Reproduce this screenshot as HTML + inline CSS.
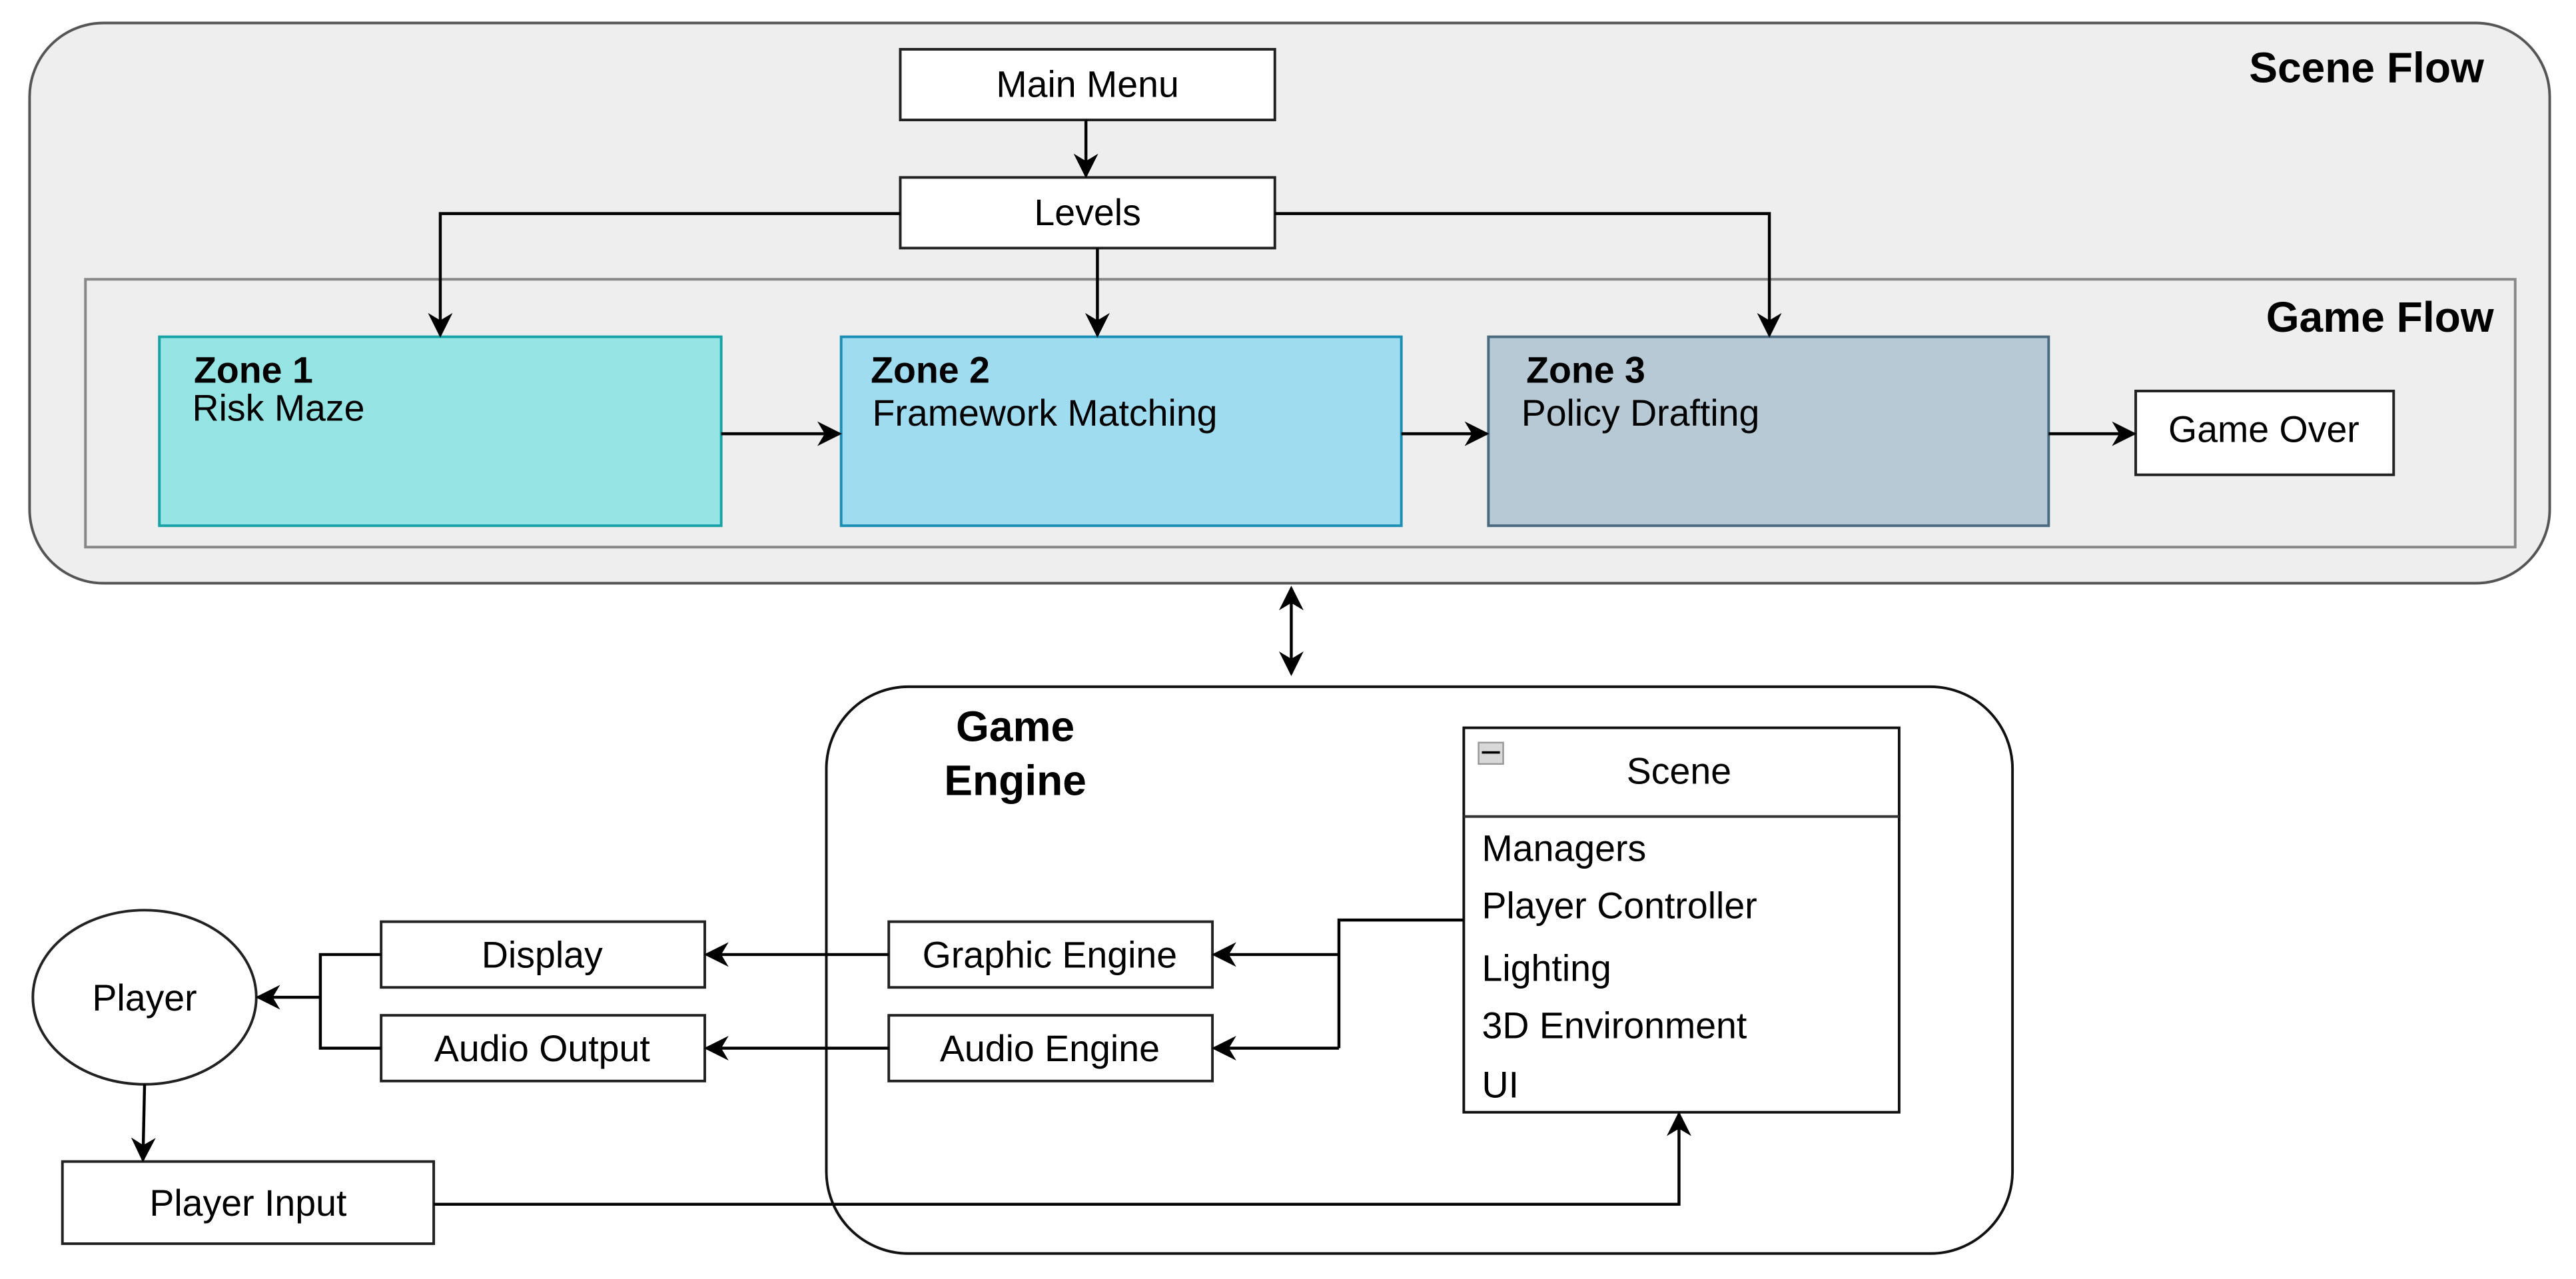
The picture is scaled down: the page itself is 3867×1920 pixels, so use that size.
<!DOCTYPE html>
<html><head><meta charset="utf-8"><style>
html,body{margin:0;padding:0;background:#fff;}
svg{display:block;}
text{font-family:"Liberation Sans",Arial,sans-serif;fill:#000;}
</style></head><body>
<svg width="3867" height="1920" viewBox="0 0 1568 778.5" preserveAspectRatio="none" xmlns="http://www.w3.org/2000/svg">
<defs>
<marker id="b" viewBox="0 0 10 10" refX="9" refY="5" markerWidth="15" markerHeight="15" markerUnits="userSpaceOnUse" orient="auto"><path d="M0,0 L10,5 L0,10 L3,5 z" fill="#000"/></marker>
<marker id="bs" viewBox="0 0 10 10" refX="1" refY="5" markerWidth="15" markerHeight="15" markerUnits="userSpaceOnUse" orient="auto"><path d="M10,0 L0,5 L10,10 L7,5 z" fill="#000"/></marker>
</defs>
<rect x="18" y="14" width="1534" height="341" rx="45" fill="#eeeeee" stroke="#555" stroke-width="1.6"/>
<text x="1512" y="50" font-size="26" font-weight="bold" text-anchor="end">Scene Flow</text>
<rect x="548" y="30" width="228" height="43" fill="#fff" stroke="#222" stroke-width="1.6"/>
<text x="662" y="59" font-size="22.5" text-anchor="middle">Main Menu</text>
<rect x="548" y="108" width="228" height="43" fill="#fff" stroke="#222" stroke-width="1.6"/>
<text x="662" y="137" font-size="22.5" text-anchor="middle">Levels</text>
<line x1="661" y1="73" x2="661" y2="107" stroke="#000" stroke-width="1.8" marker-end="url(#b)"/>
<rect x="52" y="170" width="1479" height="163" fill="#eeeeee" stroke="#888" stroke-width="1.6"/>
<text x="1518" y="202" font-size="26" font-weight="bold" text-anchor="end">Game Flow</text>
<rect x="97" y="205" width="342" height="115" fill="#96e4e4" stroke="#17a3a6" stroke-width="1.6"/>
<text x="118" y="233" font-size="22.5" font-weight="bold">Zone 1</text>
<text x="117" y="256" font-size="22.5">Risk Maze</text>
<rect x="512" y="205" width="341" height="115" fill="#a0dcef" stroke="#1a8fb3" stroke-width="1.6"/>
<text x="530" y="233" font-size="22.5" font-weight="bold">Zone 2</text>
<text x="531" y="259" font-size="22.5">Framework Matching</text>
<rect x="906" y="205" width="341" height="115" fill="#b7c9d4" stroke="#4a6a80" stroke-width="1.6"/>
<text x="929" y="233" font-size="22.5" font-weight="bold">Zone 3</text>
<text x="926" y="259" font-size="22.5">Policy Drafting</text>
<rect x="1300" y="238" width="157" height="51" fill="#fff" stroke="#222" stroke-width="1.6"/>
<text x="1378" y="269" font-size="22.5" text-anchor="middle">Game Over</text>
<g stroke="#000" stroke-width="1.8" fill="none">
<line x1="439" y1="264" x2="511" y2="264" marker-end="url(#b)"/>
<line x1="853" y1="264" x2="905" y2="264" marker-end="url(#b)"/>
<line x1="1247" y1="264" x2="1299" y2="264" marker-end="url(#b)"/>
<polyline points="548,130 268,130 268,204" marker-end="url(#b)"/>
<line x1="668" y1="151" x2="668" y2="204" marker-end="url(#b)"/>
<polyline points="776,130 1077,130 1077,204" marker-end="url(#b)"/>
<line x1="786" y1="358" x2="786" y2="410" marker-start="url(#bs)" marker-end="url(#b)"/>
</g>
<rect x="503" y="418" width="722" height="345" rx="50" fill="#fff" stroke="#111" stroke-width="1.6"/>
<text x="618" y="451" font-size="26" font-weight="bold" text-anchor="middle">Game</text>
<text x="618" y="484" font-size="26" font-weight="bold" text-anchor="middle">Engine</text>
<rect x="891" y="443" width="265" height="234" fill="#fff" stroke="#111" stroke-width="1.6"/>
<line x1="891" y1="497" x2="1156" y2="497" stroke="#333" stroke-width="1.6"/>
<rect x="900" y="452" width="15" height="13" fill="#d8d8d8" stroke="#999" stroke-width="1"/>
<line x1="902" y1="458" x2="913" y2="458" stroke="#000" stroke-width="1.5"/>
<text x="1022" y="477" font-size="22.5" text-anchor="middle">Scene</text>
<text x="902" y="524" font-size="22.5">Managers</text>
<text x="902" y="559" font-size="22.5">Player Controller</text>
<text x="902" y="597" font-size="22.5">Lighting</text>
<text x="902" y="632" font-size="22.5">3D Environment</text>
<text x="902" y="668" font-size="22.5">UI</text>
<rect x="541" y="561" width="197" height="40" fill="#fff" stroke="#222" stroke-width="1.6"/>
<text x="639" y="589" font-size="22.5" text-anchor="middle">Graphic Engine</text>
<rect x="541" y="618" width="197" height="40" fill="#fff" stroke="#222" stroke-width="1.6"/>
<text x="639" y="646" font-size="22.5" text-anchor="middle">Audio Engine</text>
<rect x="232" y="561" width="197" height="40" fill="#fff" stroke="#222" stroke-width="1.6"/>
<text x="330" y="589" font-size="22.5" text-anchor="middle">Display</text>
<rect x="232" y="618" width="197" height="40" fill="#fff" stroke="#222" stroke-width="1.6"/>
<text x="330" y="646" font-size="22.5" text-anchor="middle">Audio Output</text>
<ellipse cx="88" cy="607" rx="68" ry="53" fill="#fff" stroke="#222" stroke-width="1.6"/>
<text x="88" y="615" font-size="22.5" text-anchor="middle">Player</text>
<rect x="38" y="707" width="226" height="50" fill="#fff" stroke="#222" stroke-width="1.6"/>
<text x="151" y="740" font-size="22.5" text-anchor="middle">Player Input</text>
<g stroke="#000" stroke-width="1.8" fill="none">
<polyline points="891,560 815,560 815,638"/>
<line x1="815" y1="581" x2="739" y2="581" marker-end="url(#b)"/>
<line x1="815" y1="638" x2="739" y2="638" marker-end="url(#b)"/>
<line x1="541" y1="581" x2="430" y2="581" marker-end="url(#b)"/>
<line x1="541" y1="638" x2="430" y2="638" marker-end="url(#b)"/>
<polyline points="232,581 195,581 195,638 232,638"/>
<line x1="195" y1="607" x2="157" y2="607" marker-end="url(#b)"/>
<line x1="88" y1="660" x2="87" y2="706" marker-end="url(#b)"/>
<polyline points="264,733 1022,733 1022,678" marker-end="url(#b)"/>
</g>
</svg>
</body></html>
